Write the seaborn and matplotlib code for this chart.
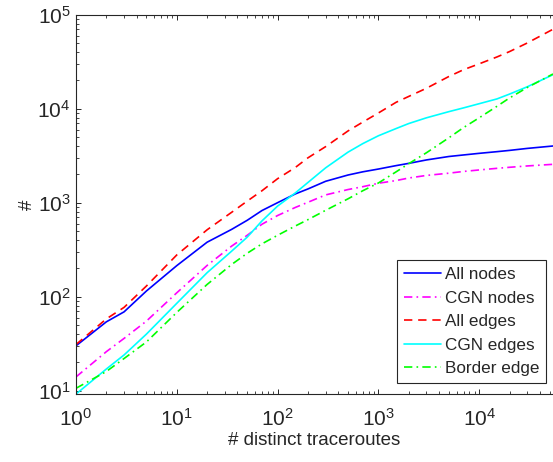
import numpy as np
import pandas as pd
import matplotlib
matplotlib.use("Agg")
import matplotlib.pyplot as plt
from matplotlib.ticker import LogLocator, NullFormatter
import seaborn as sns

# number of distinct traceroutes (x) and the counts
traceroutes = [1, 2, 3, 5, 10, 20, 35, 50, 70, 100, 150, 200, 300, 500, 700,
               1000, 1500, 2000, 3000, 5000, 7000, 10000, 15000, 20000, 30000, 54000]

all_nodes = [30, 54, 69, 115, 214, 380, 520, 650, 825, 1000, 1240, 1400, 1690, 1970, 2130,
             2280, 2480, 2620, 2850, 3100, 3220, 3350, 3490, 3600, 3780, 4010]
cgn_nodes = [14, 26, 36, 55, 110, 215, 345, 450, 590, 730, 890, 1010, 1210, 1380, 1480,
             1610, 1720, 1830, 1950, 2060, 2150, 2230, 2320, 2380, 2460, 2560]
all_edges = [31, 58, 77, 130, 278, 515, 790, 1040, 1340, 1800, 2370, 3000, 3950, 5800, 7200,
             9000, 11700, 13500, 16500, 22000, 26000, 30000, 35500, 40500, 50000, 70000]
cgn_edges = [9.2, 17, 24, 40, 85, 180, 305, 430, 640, 920, 1270, 1640, 2350, 3450, 4250,
             5150, 6150, 6950, 8000, 9300, 10200, 11300, 12700, 14300, 17100, 23000]
border_edge = [10.6, 16, 22, 33, 68, 135, 220, 290, 365, 450, 565, 660, 830, 1100, 1340,
               1620, 2130, 2600, 3400, 4900, 6300, 8000, 10600, 13000, 16800, 23400]

series = [
    ("All nodes", all_nodes, (0, 0, 1), "-"),
    ("CGN nodes", cgn_nodes, (1, 0, 1), (0, (5, 2.5, 1, 2.5))),
    ("All edges", all_edges, (1, 0, 0), (0, (5, 3.5))),
    ("CGN edges", cgn_edges, (0, 1, 1), "-"),
    ("Border edge", border_edge, (0, 1, 0), (0, (5, 2.5, 1, 2.5))),
]

sns.set_style("ticks")
plt.rcParams['font.family'] = ['Liberation Sans', 'DejaVu Sans']
plt.rcParams['mathtext.fontset'] = 'custom'
plt.rcParams['mathtext.rm'] = 'Liberation Sans'
plt.rcParams['mathtext.it'] = 'Liberation Sans:italic'

fig = plt.figure(figsize=(5.53, 4.62), dpi=100)
ax = fig.add_axes([0.1374, 0.1465, 0.8626, 0.8217])

for name, vals, col, ls in series:
    df = pd.DataFrame({"x": traceroutes, "y": vals})
    sns.lineplot(data=df, x="x", y="y", ax=ax, color=col, linestyle=ls,
                 linewidth=1.2, label=name)

ax.set_xscale("log")
ax.set_yscale("log")
ax.set_xlim(1, 54000)
ax.set_ylim(9.15, 1e5)

for axis in (ax.xaxis, ax.yaxis):
    axis.set_major_locator(LogLocator(base=10, numticks=20))
    axis.set_minor_locator(LogLocator(base=10, subs=np.arange(2, 10), numticks=100))
    axis.set_minor_formatter(NullFormatter())

dark = "#262626"
ax.tick_params(which="both", direction="in", top=True, right=False, colors=dark,
               labelsize=15)
ax.tick_params(which="major", length=3.6, width=0.7)
ax.tick_params(which="minor", length=2.0, width=0.6)
ax.tick_params(axis="x", pad=9.5)
ax.tick_params(axis="y", pad=4)
for side in ("left", "bottom", "top"):
    ax.spines[side].set_color(dark)
    ax.spines[side].set_linewidth(0.8)
ax.spines["right"].set_visible(False)

ax.set_xlabel("# distinct traceroutes", fontsize=13.5, color=dark)
ax.xaxis.set_label_coords(0.5, -0.1)
ax.xaxis.label.set_va("top")
ax.set_ylabel("#", fontsize=13.5, color=dark)
ax.yaxis.set_label_coords(-0.083, 0.5)

leg = ax.legend(loc="lower right", bbox_to_anchor=(0.985, 0.029), borderaxespad=0,
                fontsize=12.3, frameon=True, fancybox=False, framealpha=1,
                edgecolor=dark, handlelength=2.2, handletextpad=0.2,
                labelspacing=0.5, borderpad=0.4)
leg.get_frame().set_linewidth(0.8)

fig.savefig("out.png", dpi=100)
